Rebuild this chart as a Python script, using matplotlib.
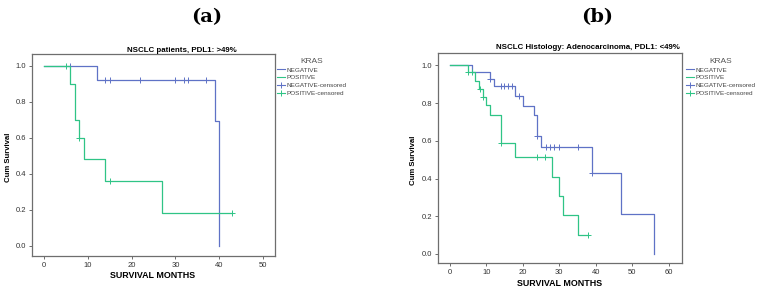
import numpy as np
import matplotlib
matplotlib.use("Agg")
import matplotlib.pyplot as plt
from matplotlib.lines import Line2D

plt.rcParams["font.family"] = ["Liberation Sans", "DejaVu Sans"]

# ==============================
# DATA
# ==============================
# panel (a): NSCLC patients, PDL1 > 49%
a_neg_t = [0, 12, 39, 40]
a_neg_s = [1.0, 0.923, 0.692, 0.0]
a_neg_cens = [6, 14, 15, 22, 30, 32, 33, 37]
a_pos_t = [0, 6, 7, 8, 9, 14, 27, 43]
a_pos_s = [1.0, 0.9, 0.7, 0.6, 0.48, 0.36, 0.18, 0.18]
a_pos_cens = [5, 8, 15, 43]

# panel (b): adenocarcinoma, PDL1 < 49%
b_neg_t = [0, 6, 11, 12, 18, 20, 23, 24, 25, 39, 47, 56]
b_neg_s = [1.0, 0.963, 0.926, 0.889, 0.839, 0.786, 0.735, 0.627, 0.57, 0.428, 0.214, 0.0]
b_neg_cens = [11.1, 14, 15, 16, 17, 19, 24, 26.5, 27.5, 28.5, 30, 35, 39]
b_pos_t = [0, 5, 7, 8, 9, 10, 11, 14, 18, 28, 30, 31, 35, 38]
b_pos_s = [1.0, 0.963, 0.92, 0.877, 0.834, 0.79, 0.735, 0.59, 0.514, 0.41, 0.309, 0.206, 0.103, 0.103]
b_pos_cens = [5, 6, 8.2, 9.1, 14, 24, 26, 38]

legend_labels = ["NEGATIVE", "POSITIVE", "NEGATIVE-censored", "POSITIVE-censored"]
BLUE = "#5f72c6"
GREEN = "#2fc486"

W, H = 761, 294
fig = plt.figure(figsize=(W / 100, H / 100), dpi=100)


def box(x0, y0, x1, y1):
    # pixel box (top-left origin) -> figure fraction
    return [x0 / W, 1 - y1 / H, (x1 - x0) / W, (y1 - y0) / H]


def surv_at(t, times, surv):
    i = np.searchsorted(times, t, side="right") - 1
    return np.array(surv)[i]


def km_panel(rect, xlim, ylim, xmax, curves, title, title_xy, xlab_xy, ylab_xy,
             tag, tag_xy, leg_xy):
    ax = fig.add_axes(box(*rect))
    for times, surv, cens, col in curves:
        ax.step(times, surv, where="post", color=col, lw=0.9)
        ax.plot(cens, surv_at(cens, times, surv), ls="none", marker="+",
                ms=4, mew=0.7, color=col)
    ax.set_xlim(*xlim)
    ax.set_ylim(*ylim)
    ax.set_xticks(np.arange(0, xmax + 1, 10))
    ax.set_yticks(np.arange(0, 1.01, 0.2))
    ax.set_yticklabels(["%.1f" % v for v in np.arange(0, 1.01, 0.2)])
    ax.tick_params(labelsize=5.5, length=2.5, width=0.6, colors="#555555",
                   labelcolor="#333333", pad=2)
    for sp in ax.spines.values():
        sp.set_color("#6e6e6e")
        sp.set_linewidth(0.9)

    fig.text(title_xy[0] / W, 1 - title_xy[1] / H, title, ha="center",
             va="center", fontsize=5.7, fontweight="bold")
    fig.text(xlab_xy[0] / W, 1 - xlab_xy[1] / H, "SURVIVAL MONTHS",
             ha="center", va="center", fontsize=6.4, fontweight="bold")
    fig.text(ylab_xy[0] / W, 1 - ylab_xy[1] / H, "Cum Survival", ha="center",
             va="center", fontsize=5.6, fontweight="bold", rotation=90)
    fig.text(tag_xy[0] / W, 1 - tag_xy[1] / H, tag, ha="center", va="center",
             fontsize=14, family="DejaVu Serif", fontweight="bold")

    handles = [
        Line2D([], [], color=BLUE, lw=0.8),
        Line2D([], [], color=GREEN, lw=0.8),
        Line2D([], [], color=BLUE, lw=0.8, marker="+", ms=4, mew=0.7),
        Line2D([], [], color=GREEN, lw=0.8, marker="+", ms=4, mew=0.7),
    ]
    leg = fig.legend(handles, legend_labels, title="KRAS", loc="upper left",
                     bbox_to_anchor=(leg_xy[0] / W, 1 - leg_xy[1] / H),
                     frameon=False, fontsize=4.6, title_fontsize=6,
                     handlelength=1.3, handletextpad=0.25, labelspacing=0.35,
                     borderpad=0, borderaxespad=0)
    for t in leg.get_texts():
        t.set_color("#444444")
    leg.get_title().set_color("#555555")
    return ax


km_panel((32, 54.5, 275, 256), (-2.8, 52.8), (-0.057, 1.062), 50,
         [(a_neg_t, a_neg_s, a_neg_cens, BLUE), (a_pos_t, a_pos_s, a_pos_cens, GREEN)],
         "NSCLC patients, PDL1: >49%", (182, 51), (153, 276), (9, 157),
         "(a)", (207, 17), (277, 58))

km_panel((438, 53, 682, 263), (-3.2, 63.6), (-0.048, 1.066), 60,
         [(b_neg_t, b_neg_s, b_neg_cens, BLUE), (b_pos_t, b_pos_s, b_pos_cens, GREEN)],
         "NSCLC Histology: Adenocarcinoma, PDL1: <49%", (588, 47), (560, 284), (414, 160),
         "(b)", (597, 17), (686, 58))

fig.savefig("out.png", dpi=100)
